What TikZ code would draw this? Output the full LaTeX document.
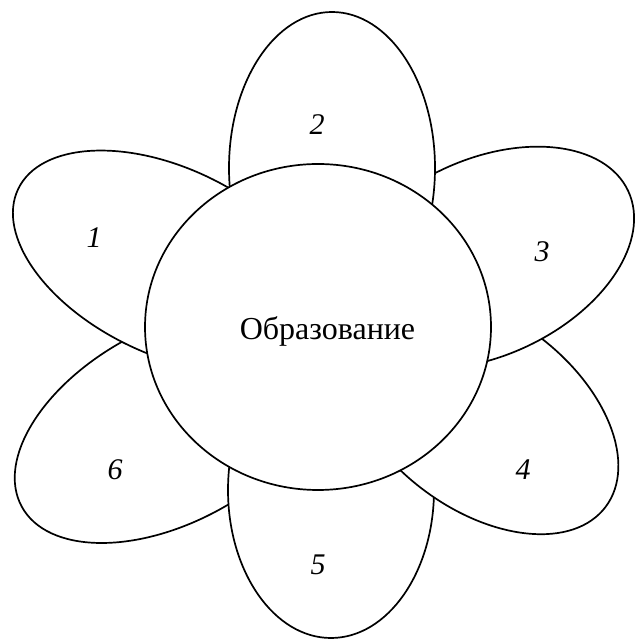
\documentclass[tikz,border=0pt]{standalone}
\usepackage{fontspec}
\setmainfont{Liberation Serif}
\begin{document}
\begin{tikzpicture}[x=1pt,y=1pt,
  petal/.style={draw=black,fill=white,line width=1.7pt},
  core/.style={draw=black,fill=white,line width=1.7pt},
  num/.style={font=\fontsize{30}{32}\selectfont\itshape,inner sep=0pt},
  title/.style={font=\fontsize{32}{34}\selectfont,inner sep=0pt}]
\useasboundingbox (0,0) rectangle (634,639);
% petals, bottom to top
\draw[petal,shift={(172,214)},rotate=28.5] (0,0) ellipse (171 and 97);
\draw[petal] (331,149) ellipse (103 and 148);
\draw[petal,shift={(481,226)},rotate=-37] (0,0) ellipse (156 and 96);
\draw[petal,shift={(485,381.2)},rotate=25] (0,0) ellipse (158 and 98);
\draw[petal] (332,471) ellipse (103 and 156);
\draw[petal,shift={(168.7,377.7)},rotate=-25.7] (0,0) ellipse (167 and 93);
% centre
\draw[core] (318,312) ellipse (173 and 163);
\node[title] (t) at (327.5,308) {Образование};
\node[num] (n1) at (94,401) {1};
\node[num] (n2) at (317,514) {2};
\node[num] (n3) at (542,387) {3};
\node[num] (n4) at (523,169) {4};
\node[num] (n5) at (318,74) {5};
\node[num] (n6) at (115,169) {6};
\end{tikzpicture}
\end{document}
